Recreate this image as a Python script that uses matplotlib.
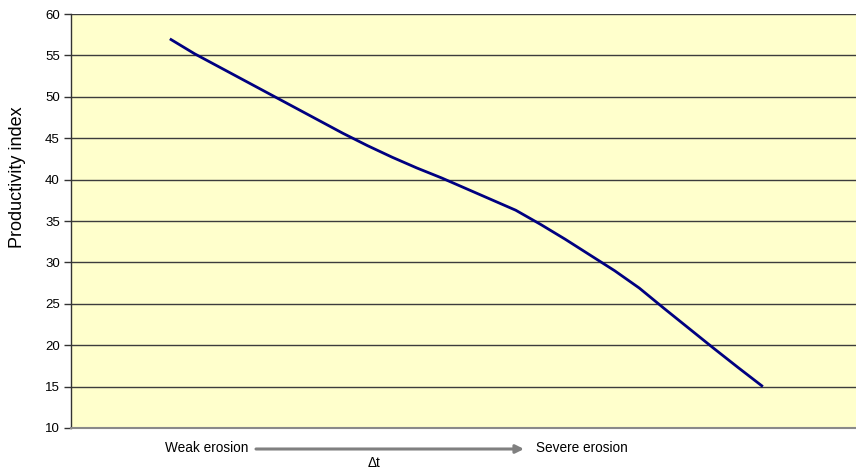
#!/usr/bin/env python
# -*- coding: utf-8 -*-

"""Productivity index vs. erosion stage"""

from matplotlib import pyplot as plt

# erosion stages (evenly spaced categories) and productivity index
stages = list(range(25))
productivity = [57.0, 55.2, 53.6, 52.0, 50.4, 48.8, 47.2, 45.6, 44.1, 42.7,
                41.4, 40.2, 38.9, 37.6, 36.3, 34.6, 32.8, 30.9, 29.0, 26.9,
                24.45, 22.05, 19.65, 17.3, 15.0]
y_ticks = [10, 15, 20, 25, 30, 35, 40, 45, 50, 55, 60]

plt.rcParams['font.family'] = ['Liberation Sans', 'DejaVu Sans']

W, H = 856, 471
fig = plt.figure(figsize=(W / 100, H / 100), dpi=100)
fig.patch.set_facecolor('white')

# plot area in pixels: left 71, right 856, top 14, bottom 428
ax = fig.add_axes([71 / W, 1 - 428 / H, (856 - 71) / W, (428 - 14) / H])
ax.set_facecolor('#FFFFCC')

ax.plot(stages, productivity, color='#000080', lw=2.0, solid_capstyle='butt',
        solid_joinstyle='round', zorder=3)

ax.set_xlim(-4.0, 27.77)
ax.set_ylim(10, 60)
ax.set_yticks(y_ticks)
ax.set_xticks([])
ax.tick_params(axis='y', direction='out', length=5, width=1, color='#333333',
               labelsize=9.5, pad=3)

for y in y_ticks[1:]:
    ax.axhline(y, color='#3c3c3c', lw=1, zorder=1)

ax.spines['top'].set_visible(False)
ax.spines['right'].set_visible(False)
ax.spines['left'].set_color('#333333')
ax.spines['left'].set_linewidth(1)
ax.spines['bottom'].set_color('#8a8a8a')
ax.spines['bottom'].set_linewidth(1.5)

fig.text(18 / W, 1 - 177 / H, 'Productivity index', rotation=90,
         ha='center', va='center', fontsize=13)

# erosion axis labels with arrow
y_txt = 1 - 448 / H
fig.text(165 / W, y_txt, 'Weak erosion', ha='left', va='center', fontsize=9.8)
fig.text(536 / W, y_txt, 'Severe erosion', ha='left', va='center', fontsize=9.8)
fig.text(374 / W, 1 - 463 / H, u'\u0394t', ha='center', va='center', fontsize=9.8)
ax.annotate('', xy=(524 / W, 1 - 449 / H), xytext=(256 / W, 1 - 449 / H),
            xycoords='figure fraction', textcoords='figure fraction',
            arrowprops=dict(arrowstyle='-|>', color='#808080', lw=2.2,
                            mutation_scale=12, shrinkA=0, shrinkB=0))

plt.savefig('out.png', dpi=100)
